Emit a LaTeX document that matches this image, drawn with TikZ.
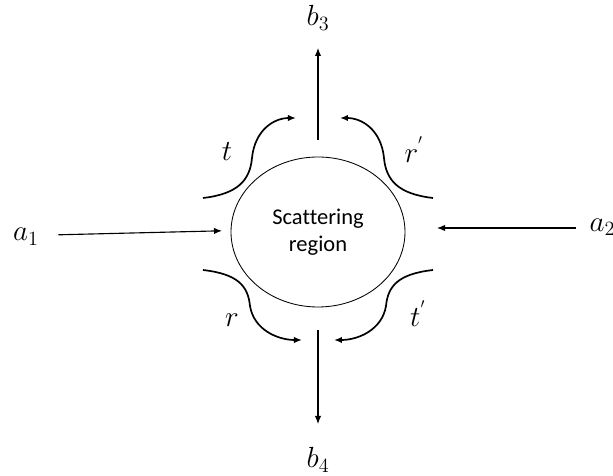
\documentclass[tikz,border=0pt]{standalone}
\usepackage{fontspec}
\newfontfamily\regionfont[Ligatures=NoCommon]{Carlito}
\usetikzlibrary{positioning, calc, arrows.meta, shapes.geometric}

\begin{document}
\begin{tikzpicture}[
    region/.style={
        draw,
        ellipse,
        line width=0.6pt,
        minimum width=4.35cm,
        minimum height=3.75cm,
        inner sep=0pt,
        align=center,
        font=\regionfont\fontsize{16}{19}\selectfont
    },
    port/.style={
        font=\fontsize{20}{24}\selectfont,
        inner sep=1pt
    },
    coef/.style={
        font=\fontsize{20}{24}\selectfont,
        inner sep=1pt
    },
    arrow/.style={
        -{Latex[length=2mm, width=1.6mm]},
        line width=0.8pt
    },
    swirl/.style={
        -{Latex[length=2mm, width=1.6mm]},
        line width=1.2pt
    }
]

% canvas
\useasboundingbox (-7.95,-6.1) rectangle (7.375,5.8);

% parameters
\def\gx{0.55}
\def\gy{0.4}

% scattering region
\node[region] (sr) at (0,0) {Scattering\\region};

% ports
\node[port] (a1) at (-7.3,-0.12) {$a_1$};
\node[port, anchor=west] (a2) at (6.75,0.12) {$a_2$};
\node[port] (b3) at (0,5.35) {$b_3$};
\node[port] (b4) at (0,-5.7) {$b_4$};

% arrow ends
\coordinate (a1e) at (-2.4,0.03);
\coordinate (a2s) at (6.45,0.1);
\coordinate (a2e) at (2.975,0.1);
\coordinate (b3s) at (0,2.3);
\coordinate (b4s) at (0,-2.45);

\draw[arrow] (a1.east) ++(0.45,0.05) -- (a1e);
\draw[arrow] (a2s) -- (a2e);
\draw[arrow, shorten >=0.4cm] (b3s) -- (b3.south);
\draw[arrow, shorten >=0.55cm] (b4s) -- (b4.north);

% curved coefficients
\foreach \s in {-1,1}{
  \draw[swirl] (\s*2.875,0.85) .. controls (\s*2.0,0.95) and (\s*1.7,1.3) .. (\s*1.65,1.85)
    .. controls (\s*1.58,2.55) and (\s*1.1,2.85) .. (\s*\gx,2.85);
  \draw[swirl] (\s*2.875,-0.95) .. controls (\s*2.0,-1.05) and (\s*1.75,-1.35) .. (\s*1.7,-1.85)
    .. controls (\s*1.6,-2.45) and (\s*1.0,-2.7) .. (\s*\gy,-2.7);
}

\node[coef] (t) at (-2.275,2.0) {$t$};
\node[coef] (rp) at (2.4,2.05) {$r^{'}$};
\node[coef] (r) at (-2.15,-2.2) {$r$};
\node[coef] (tp) at (2.5,-2.05) {$t^{'}$};

\end{tikzpicture}
\end{document}
